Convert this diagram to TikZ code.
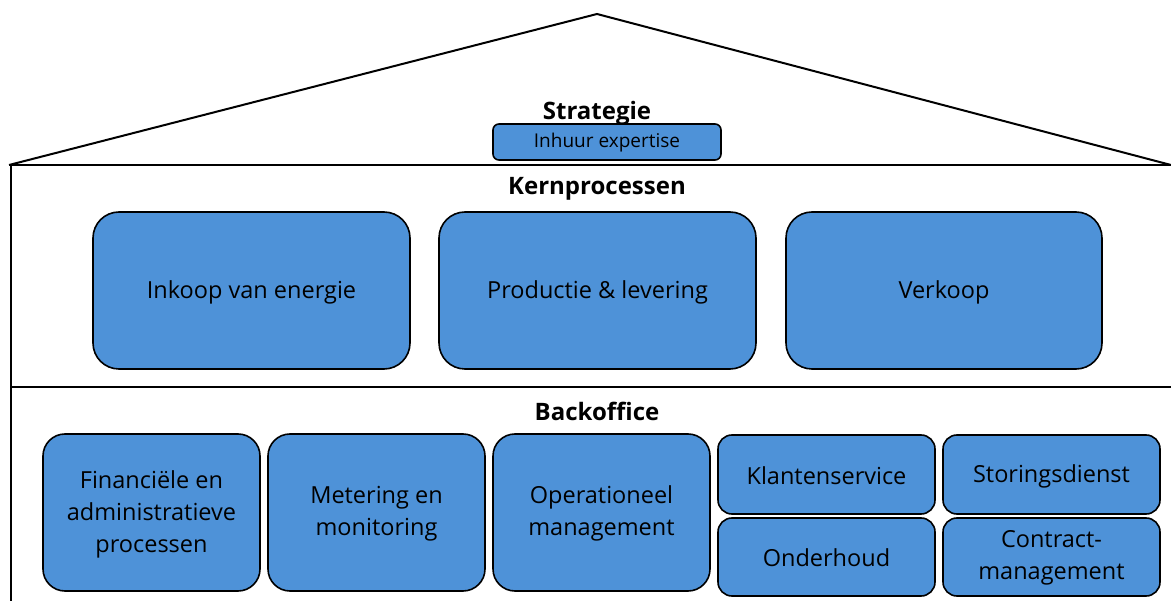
\documentclass[tikz,border=0pt]{standalone}
\usepackage{fontspec}
\setmainfont{Open Sans}
\definecolor{boxblue}{RGB}{78,146,216}
\begin{document}
\begin{tikzpicture}[x=1pt,y=-1pt,
  wall/.style={line width=2pt,black},
  pbox/.style={draw=black,line width=1.6pt,fill=boxblue,rounded corners=#1},
  pbox/.default=22pt,
  ptext/.style={font=\fontsize{23.5}{32}\selectfont,align=center,text=black},
  title/.style={font=\fontsize{24}{28}\selectfont\bfseries}]
\useasboundingbox (0,0) rectangle (1171,601);
% roof
\coordinate (apex) at (597,14);
\coordinate (rl) at (9,165);
\coordinate (rr) at (1171,165);
\draw[wall,line join=miter] (rl) -- (apex) -- (rr);
\coordinate (wl) at (11,165);
\coordinate (wb) at (11,601);
\coordinate (ml) at (11,387);
\coordinate (mr) at (1171,387);
\draw[wall] (rl) -- (rr);
\draw[wall] (wl) -- (wb);
\draw[wall] (ml) -- (mr);
% titles
\node[title] (strat) at (597,113) {Strategie};
\node[title] (kern) at (597,189) {Kernprocessen};
\node[title] (back) at (597,411) {Backoffice};
% strategy box
\draw[pbox=6pt] (493,124) rectangle (721,160);
\node[font=\fontsize{19}{22}\selectfont] (inh) at (607,143) {Inhuur expertise};
% core processes
\draw[pbox=26pt] (93,212) rectangle (410,369);
\node[ptext] (k1) at (251.5,292) {Inkoop van energie};
\draw[pbox=26pt] (439,212) rectangle (756,369);
\node[ptext] (k2) at (597.5,292) {Productie \& levering};
\draw[pbox=26pt] (786,212) rectangle (1102,369);
\node[ptext] (k3) at (944,292) {Verkoop};
% backoffice
\draw[pbox=22pt] (43,434) rectangle (260,591);
\node[ptext] (b1) at (151.5,514) {Financiële en\\administratieve\\processen};
\draw[pbox=22pt] (268,434) rectangle (485,591);
\node[ptext] (b2) at (376.5,514) {Metering en\\monitoring};
\draw[pbox=22pt] (493,434) rectangle (710,591);
\node[ptext] (b3) at (601.5,513) {Operationeel\\management};
\draw[pbox=14pt] (718,435) rectangle (935,514);
\node[ptext] (b4) at (826.5,476) {Klantenservice};
\draw[pbox=14pt] (718,518) rectangle (935,596);
\node[ptext] (b5) at (826.5,558) {Onderhoud};
\draw[pbox=14pt] (943,435) rectangle (1160,514);
\node[ptext] (b6) at (1051.5,476) {Storingsdienst};
\draw[pbox=14pt] (943,518) rectangle (1160,596);
\node[ptext] (b7) at (1051.5,558) {Contract-\\management};
\end{tikzpicture}
\end{document}
